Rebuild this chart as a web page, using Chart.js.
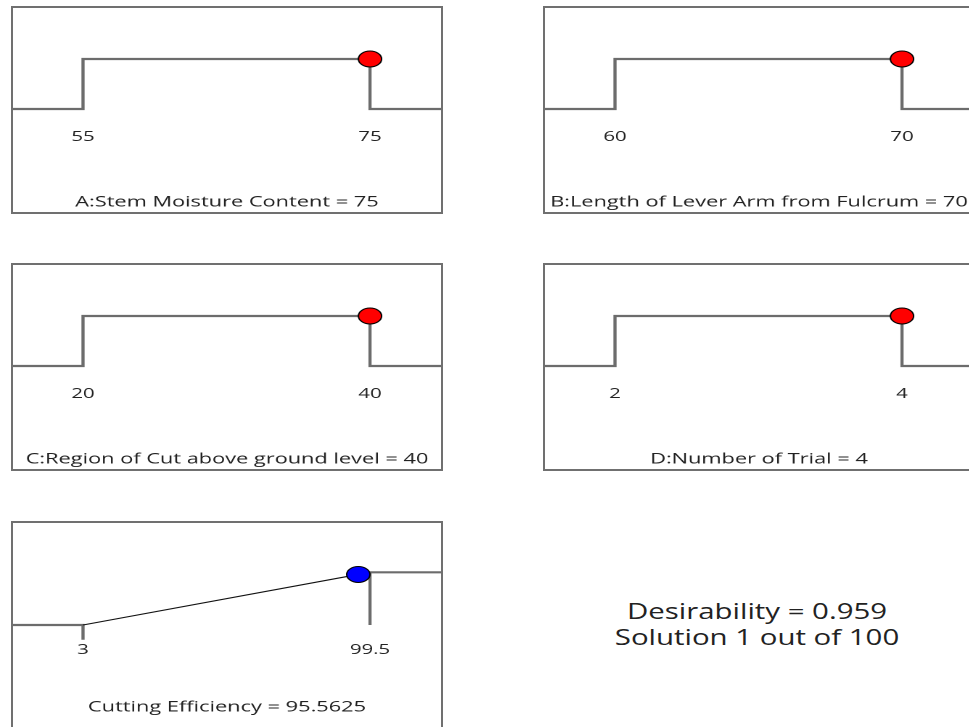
<!DOCTYPE html>
<html>
<head>
<meta charset="utf-8">
<script src="https://cdn.jsdelivr.net/npm/chart.js@4.4.1/dist/chart.umd.min.js"></script>
<style>
body { margin:0; width:969px; height:727px; overflow:hidden; background:#fff; font-family:"Open Sans", sans-serif; }
.box { position:absolute; width:432px; height:208px; border:2px solid #707070; box-sizing:border-box; background:#fff; }
.note { position:absolute; left:557px; width:400px; top:599px; text-align:center; font-size:21px; line-height:25.5px; color:#222; transform:scaleX(1.4); transform-origin:center; }
</style>
</head>
<body>
<div class="box" style="left:11px;top:6px"><canvas id="pA" width="295" height="204" style="width:428px;height:204px"></canvas></div>
<div class="box" style="left:543px;top:6px"><canvas id="pB" width="295" height="204" style="width:428px;height:204px"></canvas></div>
<div class="box" style="left:11px;top:263px"><canvas id="pC" width="295" height="204" style="width:428px;height:204px"></canvas></div>
<div class="box" style="left:543px;top:263px"><canvas id="pD" width="295" height="204" style="width:428px;height:204px"></canvas></div>
<div class="box" style="left:11px;top:521px"><canvas id="pE" width="295" height="204" style="width:428px;height:204px"></canvas></div>
<div class="note" id="note"></div>
<script>
// factors (ramp panels)
const factorNames = ['A:Stem Moisture Content', 'B:Length of Lever Arm from Fulcrum', 'C:Region of Cut above ground level', 'D:Number of Trial'];
const factorLow = [55, 60, 20, 2];
const factorHigh = [75, 70, 40, 4];
const factorSetting = [75, 70, 40, 4];

// response
const responseName = 'Cutting Efficiency';
const responseLow = 3;
const responseHigh = 99.5;
const responseSetting = 95.5625;
const responseDesirability = 0.959;

// overall
const desirability = 0.959;
const solutionNo = 1;
const solutionCount = 100;

const GRAY = '#6c6c6c';
const H = 204;          // inner box height
const TICK_LH = 14 * 1.2, TICK_PAD = 3, TITLE_LH = 15 * 1.2;

// x range: low sits 70px, high 357px into a 428px wide box
function xRange(lo, hi) {
    const r = hi - lo;
    return { min: lo - r * 70 / 287, max: hi + r * 71 / 287 };
}

// pixel targets -> y scale + title padding
function layoutFor(px) {
    const bottom = px.label - TICK_LH / 2 - TICK_PAD;
    const unit = px.low - px.high;
    const axisEnd = bottom + TICK_LH + 2 * TICK_PAD;
    return {
        ymin: -(bottom - px.low) / unit,
        ymax: 1 + px.high / unit,
        padTop: px.title - TITLE_LH / 2 - axisEnd,
        padBottom: H - px.title - TITLE_LH / 2
    };
}

function makePanel(id, lo, hi, title, datasets, px) {
    const xr = xRange(lo, hi);
    const L = layoutFor(px);
    return new Chart(document.getElementById(id), {
        type: 'scatter',
        data: { datasets: datasets(xr) },
        options: {
            responsive: false,
            devicePixelRatio: 2,
            animation: false,
            events: [],
            layout: { padding: 0, autoPadding: false },
            plugins: {
                legend: { display: false },
                tooltip: { enabled: false },
                title: { display: true, position: 'bottom', text: title, color: '#222',
                    font: { family: 'Open Sans', size: 15, weight: 'normal' },
                    padding: { top: L.padTop, bottom: L.padBottom } }
            },
            scales: {
                x: { type: 'linear', position: 'bottom', min: xr.min, max: xr.max,
                    grid: { display: false, drawTicks: false }, border: { display: false },
                    afterBuildTicks: s => { s.ticks = [{ value: lo }, { value: hi }]; },
                    ticks: { autoSkip: false, maxRotation: 0, padding: TICK_PAD, color: '#222',
                        font: { family: 'Open Sans', size: 14 }, callback: v => String(v) } },
                y: { display: false, min: L.ymin, max: L.ymax }
            }
        }
    });
}

const lineStyle = { showLine: true, pointRadius: 0, borderColor: GRAY, borderWidth: 2.2, clip: false };
const dotStyle = { pointRadius: 8, pointBorderWidth: 1, pointBorderColor: '#000', showLine: false, clip: false };

['pA', 'pB', 'pC', 'pD'].forEach((id, i) => {
    const lo = factorLow[i], hi = factorHigh[i];
    makePanel(id, lo, hi, `${factorNames[i]} = ${factorSetting[i]}`, xr => [
        { ...dotStyle, data: [{ x: factorSetting[i], y: 1 }], pointBackgroundColor: '#ff0000' },
        { ...lineStyle, data: [
            { x: xr.min, y: 0 }, { x: lo, y: 0 }, { x: lo, y: 1 },
            { x: hi, y: 1 }, { x: hi, y: 0 }, { x: xr.max, y: 0 }] }
    ], { high: 51, low: 101, label: 129, title: 194 });
});

makePanel('pE', responseLow, responseHigh, `${responseName} = ${responseSetting}`, xr => [
    { ...dotStyle, data: [{ x: responseSetting, y: responseDesirability }], pointBackgroundColor: '#0000ff' },
    { showLine: true, pointRadius: 0, borderColor: '#111', borderWidth: 1.1, clip: false,
        data: [{ x: responseLow, y: 0 }, { x: responseSetting, y: responseDesirability }] },
    { ...lineStyle, data: [{ x: xr.min, y: 0 }, { x: responseLow, y: 0 }, { x: responseLow, y: -0.28 }] },
    { ...lineStyle, data: [{ x: responseHigh, y: 0 }, { x: responseHigh, y: 1 }, { x: xr.max, y: 1 }] }
], { high: 49.3, low: 102, label: 127, title: 184 });

document.getElementById('note').innerHTML =
    `Desirability = ${desirability}<br>Solution ${solutionNo} out of ${solutionCount}`;
</script>
</body>
</html>
